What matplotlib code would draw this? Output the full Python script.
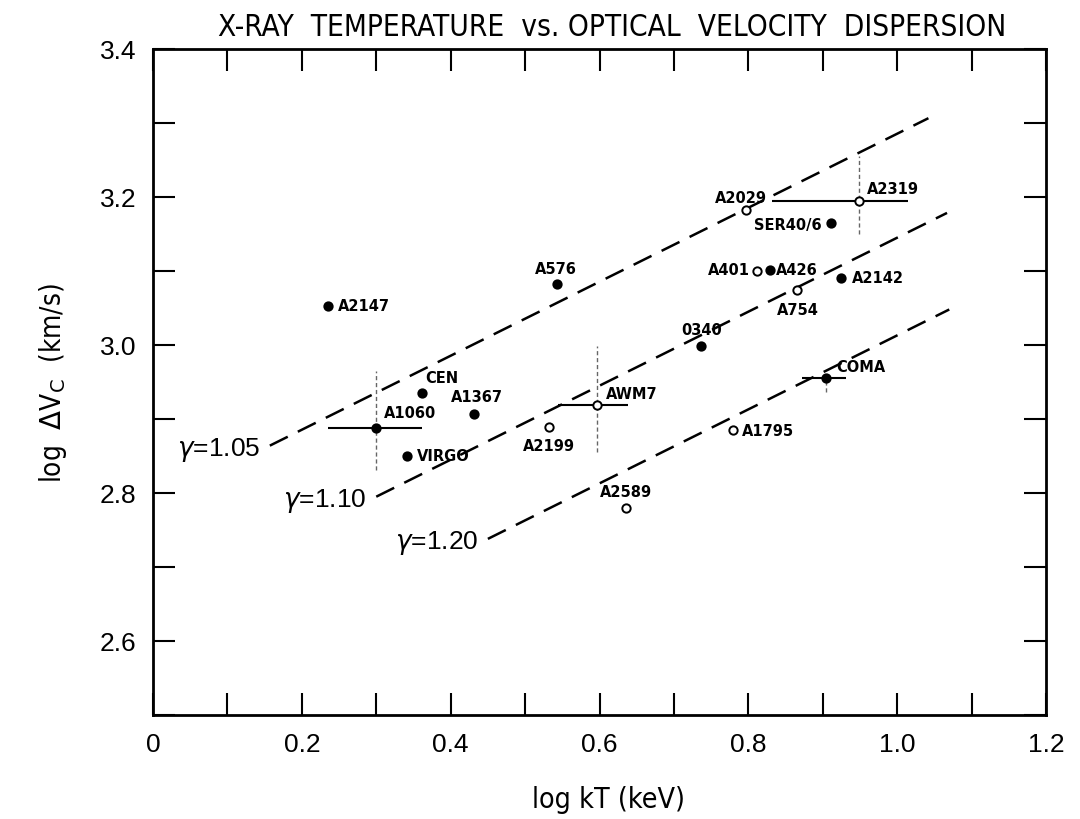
import matplotlib
matplotlib.use("Agg")
import matplotlib.pyplot as plt
from matplotlib.ticker import MultipleLocator, FixedLocator

# ---------------- data ----------------
names = ["A2147", "CEN", "A1367", "A1060", "VIRGO", "A576", "A2029", "A2319",
         "SER40/6", "A401", "A426", "A2142", "A754", "0340", "COMA", "AWM7",
         "A2199", "A1795", "A2589"]
log_kT = [0.235, 0.362, 0.432, 0.300, 0.341, 0.543, 0.797, 0.949,
          0.911, 0.812, 0.829, 0.925, 0.866, 0.737, 0.905, 0.597,
          0.532, 0.779, 0.636]
log_dv = [3.053, 2.935, 2.907, 2.888, 2.850, 3.082, 3.182, 3.195,
          3.165, 3.100, 3.101, 3.091, 3.074, 2.999, 2.955, 2.919,
          2.889, 2.885, 2.780]
filled = [True, True, True, True, True, True, False, False,
          True, False, True, True, False, True, True, False,
          False, False, False]

# error bars: name, x-, x+, y-, y+
err_names = ["A1060", "A2319", "AWM7", "COMA"]
err_xlo = [0.065, 0.117, 0.053, 0.033]
err_xhi = [0.062, 0.066, 0.041, 0.026]
err_ylo = [0.057, 0.045, 0.064, 0.018]
err_yhi = [0.077, 0.060, 0.080, 0.0]

# gamma lines: log dV = 0.5 log kT + c
gammas = ["1.05", "1.10", "1.20"]
gamma_x0 = [0.157, 0.300, 0.450]
gamma_x1 = [1.042, 1.067, 1.070]
gamma_y0 = [2.864, 2.795, 2.738]
gamma_slope = 0.5

xticks_major = [0, 0.2, 0.4, 0.6, 0.8, 1.0, 1.2]
xtick_labels = ["0", "0.2", "0.4", "0.6", "0.8", "1.0", "1.2"]
yticks_major = [2.6, 2.8, 3.0, 3.2, 3.4]
ytick_labels = ["2.6", "2.8", "3.0", "3.2", "3.4"]

# ---------------- label layout (pixel offsets) ----------------
label_off = {
    "A2147": (10, 0, "left"), "CEN": (3, 16, "left"), "A1367": (-24, 17, "left"),
    "A1060": (8, 15, "left"), "VIRGO": (10, 0, "left"), "A576": (-22, 16, "left"),
    "A2029": (-31, 13, "left"), "A2319": (8, 12, "left"), "SER40/6": (-9, -2, "right"),
    "A401": (-7, 1, "right"), "A426": (6, 1, "left"), "A2142": (11, 0, "left"),
    "A754": (0, -19, "center"), "0340": (0, 16, "center"), "COMA": (10, 12, "left"),
    "AWM7": (9, 11, "left"), "A2199": (0, -18, "center"), "A1795": (9, 0, "left"),
    "A2589": (0, 16, "center"),
}

base = "Liberation Sans"
cond = dict(family="DejaVu Sans", stretch="condensed")

fig = plt.figure(figsize=(10.8, 8.2), dpi=100)
ax = fig.add_axes([153/1080, 1-716/820, (1046-153)/1080, (716-50)/820])
ax.set_xlim(0, 1.2)
ax.set_ylim(2.5, 3.4)

# gamma lines
for g, x0, x1, y0 in zip(gammas, gamma_x0, gamma_x1, gamma_y0):
    y1 = y0 + gamma_slope * (x1 - x0)
    ax.plot([x0, x1], [y0, y1], color="black", lw=1.8, dashes=(8, 4.5))
    ax.annotate(r"$\gamma$" + "=" + g, (x0, y0), xytext=(-10, -3),
                textcoords="offset pixels", ha="right", va="center",
                fontsize=19, family=[base, "DejaVu Sans"])

# error bars
for n, xl, xh, yl, yh in zip(err_names, err_xlo, err_xhi, err_ylo, err_yhi):
    i = names.index(n)
    x, y = log_kT[i], log_dv[i]
    ax.errorbar([x], [y], xerr=[[xl], [xh]], fmt="none", ecolor="black",
                elinewidth=1.5, capsize=0)
    eb = ax.errorbar([x], [y], yerr=[[yl], [yh]], fmt="none", ecolor="#666666",
                     elinewidth=1.0, capsize=0)
    eb[2][0].set_linestyle((0, (3, 2)))

# points
for n, x, y, f in zip(names, log_kT, log_dv, filled):
    ax.plot([x], [y], "o", ms=6, mec="black", mew=1.4,
            mfc="black" if f else "white", zorder=5)
    dx, dy, ha = label_off[n]
    ax.annotate(n, (x, y), xytext=(dx, dy), textcoords="offset pixels",
                ha=ha, va="center", fontsize=10.5, fontweight="bold",
                family="DejaVu Sans")

# axes styling
for s in ax.spines.values():
    s.set_linewidth(2)
ax.xaxis.set_major_locator(FixedLocator(xticks_major))
ax.xaxis.set_minor_locator(MultipleLocator(0.1))
ax.yaxis.set_major_locator(FixedLocator(yticks_major))
ax.yaxis.set_minor_locator(MultipleLocator(0.1))
ax.set_xticklabels(xtick_labels)
ax.set_yticklabels(ytick_labels)
ax.tick_params(which="both", direction="in", length=16, width=1.5,
               top=True, right=True)
ax.tick_params(which="major", labelsize=19, pad=12)
for lab in ax.get_xticklabels() + ax.get_yticklabels():
    lab.set_family(base)

ax.set_xlabel("log kT (keV)", fontsize=20.5, labelpad=16, **cond)
ax.xaxis.set_label_coords((608-153)/(1046-153), -0.105)
ax.set_ylabel(r"log  $\Delta$V$_{\rm C}$  (km/s)", fontsize=20, labelpad=22, **cond)
fig.text(612/1080, 1-27/820, "X-RAY  TEMPERATURE  vs. OPTICAL  VELOCITY  DISPERSION",
         ha="center", va="center", fontsize=21.3, **cond)

fig.savefig("out.png", dpi=100)
